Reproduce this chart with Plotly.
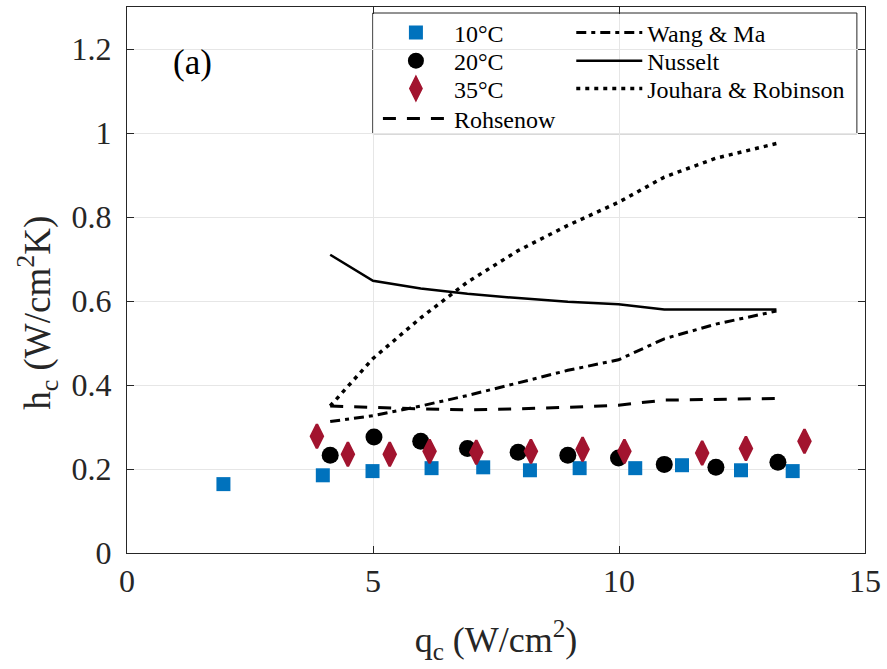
import plotly.graph_objects as go

# ---- data ----
q10 = [1.96, 3.98, 4.99, 6.19, 7.24, 8.19, 9.20, 10.33, 11.28, 12.48, 13.53]
h10 = [0.164, 0.185, 0.195, 0.202, 0.204, 0.197, 0.202, 0.202, 0.209, 0.197, 0.195]

q20 = [4.13, 5.02, 5.97, 6.92, 7.95, 8.96, 9.99, 10.92, 11.97, 13.23]
h20 = [0.233, 0.276, 0.266, 0.249, 0.240, 0.233, 0.226, 0.211, 0.204, 0.216]

q35 = [3.86, 4.49, 5.34, 6.15, 7.10, 8.21, 9.26, 10.11, 11.69, 12.58, 13.77]
h35 = [0.278, 0.235, 0.235, 0.242, 0.240, 0.242, 0.247, 0.242, 0.238, 0.249, 0.266]

q_model = [4.13, 5.0, 5.97, 6.92, 7.95, 8.96, 9.99, 10.92, 11.97, 13.2]
h_wang = [0.313, 0.327, 0.350, 0.375, 0.405, 0.435, 0.460, 0.510, 0.545, 0.576]
h_nusselt = [0.710, 0.648, 0.630, 0.617, 0.607, 0.598, 0.592, 0.580, 0.580, 0.580]
h_jouhara = [0.350, 0.463, 0.560, 0.645, 0.720, 0.780, 0.835, 0.895, 0.940, 0.975]
h_rohsenow = [0.350, 0.346, 0.343, 0.341, 0.343, 0.347, 0.352, 0.364, 0.366, 0.368]

FONT = "Times New Roman, Liberation Serif, serif"
INK = "#262626"
RED = "#A2142F"

fig = go.Figure()

fig.add_trace(go.Scatter(x=q10, y=h10, mode="markers", name="10°C",
                         marker=dict(symbol="square", size=14, color="#0072BD",
                                     line=dict(width=0)), legend="legend"))
fig.add_trace(go.Scatter(x=q20, y=h20, mode="markers", name="20°C",
                         marker=dict(symbol="circle", size=17, color="black",
                                     line=dict(width=0)), legend="legend2"))
fig.add_trace(go.Scatter(x=q35, y=h35, mode="markers", name="35°C",
                         marker=dict(symbol="diamond-tall", size=17, color=RED,
                                     line=dict(width=2.5, color=RED)), legend="legend3"))
fig.add_trace(go.Scatter(x=q_model, y=h_rohsenow, mode="lines", name="Rohsenow",
                         line=dict(color="black", width=3, dash="13px,11px"),
                         legend="legend4"))
fig.add_trace(go.Scatter(x=q_model, y=h_wang, mode="lines", name="Wang & Ma",
                         line=dict(color="black", width=3, dash="10px,5px,4px,5px"),
                         legend="legend5"))
fig.add_trace(go.Scatter(x=q_model, y=h_nusselt, mode="lines", name="Nusselt",
                         line=dict(color="black", width=2.5, dash="solid"),
                         legend="legend6"))
fig.add_trace(go.Scatter(x=q_model, y=h_jouhara, mode="lines", name="Jouhara & Robinson",
                         line=dict(color="black", width=3.5, dash="4px,5px"),
                         legend="legend7"))

axis_common = dict(showline=True, linecolor=INK, linewidth=1, mirror="ticks",
                   ticks="inside", ticklen=7, tickcolor=INK,
                   showgrid=True, gridcolor="#e6e6e6", gridwidth=1, zeroline=False,
                   tickfont=dict(family=FONT, size=32, color=INK))

fig.update_xaxes(range=[0, 15], tickvals=[0, 5, 10, 15],
                 title=dict(text="q<sub>c</sub> (W/cm<sup>2</sup>)",
                            font=dict(family=FONT, size=36, color=INK), standoff=28),
                 **axis_common)
fig.update_yaxes(range=[0, 1.3], tickvals=[0, 0.2, 0.4, 0.6, 0.8, 1.0, 1.2],
                 ticktext=["0", "0.2", "0.4", "0.6", "0.8", "1", "1.2"],
                 ticklabelstandoff=8,
                 **axis_common)

# y-axis title (placed to match the reference's offset centre)
fig.add_annotation(x=-0.122, y=0.44, xref="paper", yref="paper",
                   text="h<sub>c</sub> (W/cm<sup>2</sup>K)", textangle=-90,
                   showarrow=False, xanchor="center", yanchor="middle",
                   font=dict(family=FONT, size=37, color=INK))

fig.add_shape(type="rect", xref="paper", yref="paper", x0=0.333, x1=0.989, y0=0.768, y1=0.989,
              line=dict(color=INK, width=1), fillcolor="white", layer="below")

fig.add_annotation(x=1.33, y=1.168, xref="x", yref="y", text="(a)", showarrow=False,
                   font=dict(family=FONT, size=35, color="black"))


def leg(x, y):
    return dict(x=x, y=y, xanchor="left", yanchor="middle",
                bgcolor="rgba(0,0,0,0)", borderwidth=0,
                font=dict(family=FONT, size=24, color="black"),
                itemwidth=66, tracegroupgap=0)


fig.update_layout(
    width=887, height=669,
    margin=dict(l=127, r=19, t=6, b=116),
    plot_bgcolor="white", paper_bgcolor="white",
    font=dict(family=FONT, color=INK),
    showlegend=True,
    legend=leg(0.340, 0.9525),
    legend2=leg(0.340, 0.901),
    legend3=leg(0.340, 0.850),
    legend4=leg(0.340, 0.795),
    legend5=leg(0.602, 0.9525),
    legend6=leg(0.602, 0.901),
    legend7=leg(0.602, 0.850),
)

fig.write_html("out.html")
